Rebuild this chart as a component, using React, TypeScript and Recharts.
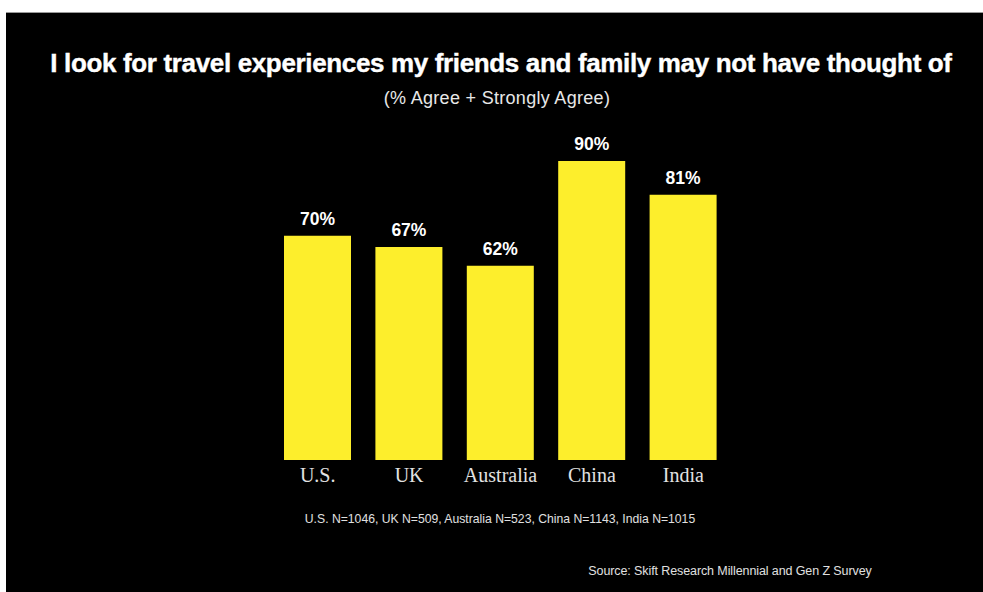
import React from "react";
import { BarChart, Bar, XAxis, YAxis, LabelList } from "recharts";

const countries = ["U.S.", "UK", "Australia", "China", "India"];
const agreePct = [70, 67, 62, 90, 81];
const sampleNote = "U.S. N=1046, UK N=509, Australia N=523, China N=1143, India N=1015";
const titleText = "I look for travel experiences my friends and family may not have thought of";
const subtitleText = "(% Agree + Strongly Agree)";
const sourceText = "Source:  Skift Research Millennial and Gen Z Survey";

const data = countries.map((c, i) => ({ country: c, value: agreePct[i] }));

const SANS = "'Liberation Sans', Arial, sans-serif";

export default function App() {
  return (
    <div style={{ position: "absolute", left: 0, top: 0, width: 983, height: 592, background: "#fff" }}>
      <div style={{ position: "absolute", left: 6, top: 12, width: 977, height: 580, background: "#000", borderTop: "1px solid #9a9a9a", boxSizing: "border-box" }} />
      <div style={{ position: "absolute", left: 6, top: 12 }}>
        <BarChart
          width={977}
          height={580}
          data={data}
          margin={{ top: 149, right: 254, bottom: 102, left: 266 }}
        >
          <YAxis hide domain={[10, 90]} />
          <XAxis
            dataKey="country"
            axisLine={false}
            tickLine={false}
            height={30}
            interval={0}
            tick={{ fill: "#e2e2e2", fontSize: 20, fontFamily: "'Liberation Serif', 'Times New Roman', serif" }}
          />
          <Bar dataKey="value" fill="#FDEE2C" barSize={67} isAnimationActive={false}>
            <LabelList
              dataKey="value"
              position="top"
              offset={11}
              formatter={(v: any) => `${v}%`}
              style={{ fill: "#ffffff", fontSize: 17.5, fontWeight: 700, fontFamily: SANS }}
            />
          </Bar>
        </BarChart>
      </div>
      <svg width={983} height={592} style={{ position: "absolute", left: 0, top: 0, pointerEvents: "none" }}>
        <text x={501} y={72} textAnchor="middle" fill="#ffffff" fontFamily={SANS} fontWeight={700} fontSize={26} letterSpacing={-0.35} stroke="#ffffff" strokeWidth={0.4}>
          {titleText}
        </text>
        <text x={497} y={104} textAnchor="middle" fill="#e8e8e8" fontFamily={SANS} fontSize={18} letterSpacing={0.3}>
          {subtitleText}
        </text>
        <text x={500} y={523} textAnchor="middle" fill="#e0e0e0" fontFamily={SANS} fontSize={12.2}>
          {sampleNote}
        </text>
        <text x={730} y={575} textAnchor="middle" fill="#e0e0e0" fontFamily={SANS} fontSize={12.5} letterSpacing={-0.1}>
          {sourceText}
        </text>
      </svg>
    </div>
  );
}
